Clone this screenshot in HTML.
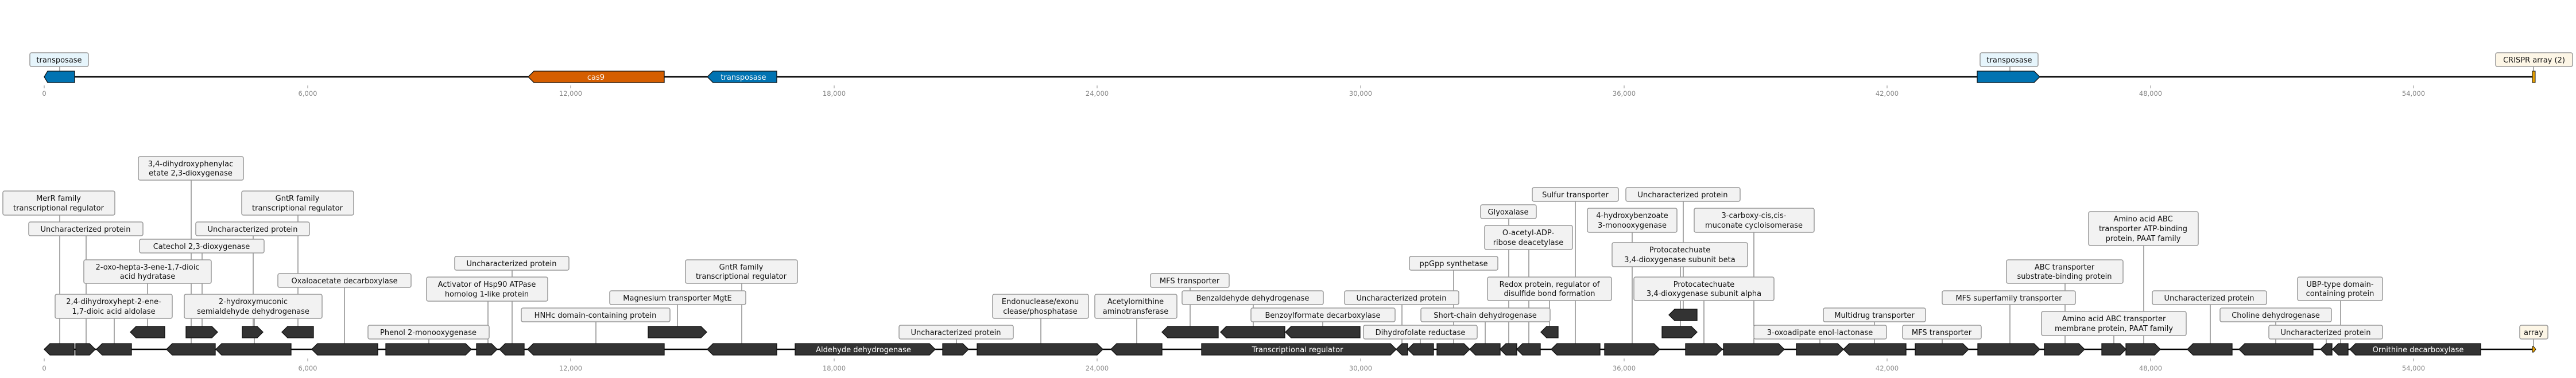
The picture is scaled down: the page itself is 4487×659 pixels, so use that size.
<!DOCTYPE html>
<html><head><meta charset="utf-8"><style>
html,body{margin:0;padding:0;background:#fff;}
svg{display:block;font-family:"DejaVu Sans","Liberation Sans",sans-serif;}
.b{fill:#f2f2f2;stroke:#999;stroke-width:1.5;}
.t{font-size:13px;fill:#111;text-anchor:middle;}
.l{stroke:#555;stroke-width:1;}
.g{fill:#333;stroke:#111;stroke-width:1.3;}
.k{stroke:#888;stroke-width:1;}
.n{font-size:11.5px;fill:#888;text-anchor:middle;}
.w{font-size:13px;fill:#fff;text-anchor:middle;}
</style></head><body>
<svg width="4487" height="659" viewBox="0 0 4487 659" xmlns="http://www.w3.org/2000/svg">
<!-- TOP TRACK -->
<line x1="77" y1="134" x2="4413" y2="134" stroke="#000" stroke-width="2.5"/>
<line class="l" x1="104" y1="116" x2="104" y2="124"/>
<line class="l" x1="3501" y1="116" x2="3501" y2="124"/>
<line class="l" x1="4413" y1="116" x2="4413" y2="124"/>
<polygon points="77,134 83,124 130,124 130,144 83,144" fill="#0173b2" stroke="#111" stroke-width="1.3"/>
<polygon points="920,134 930,124 1157,124 1157,144 930,144" fill="#d55e00" stroke="#111" stroke-width="1.3"/>
<text class="w" x="1038" y="139">cas9</text>
<polygon points="1232,134 1242,124 1353,124 1353,144 1242,144" fill="#0173b2" stroke="#111" stroke-width="1.3"/>
<text class="w" x="1295" y="139">transposase</text>
<polygon points="3444,124 3543,124 3553,134 3543,144 3444,144" fill="#0173b2" stroke="#111" stroke-width="1.3"/>
<rect x="4411" y="124" width="5" height="20" fill="#e69f00" stroke="#111" stroke-width="1"/>
<rect x="52" y="92" width="102" height="24" rx="3" fill="#e6f5fc" stroke="#999" stroke-width="1.5"/>
<text class="t" x="103" y="109">transposase</text>
<rect x="3449" y="92" width="101" height="24" rx="3" fill="#e6f5fc" stroke="#999" stroke-width="1.5"/>
<text class="t" x="3500" y="109">transposase</text>
<rect x="4347" y="92" width="134" height="24" rx="3" fill="#fdf6e6" stroke="#999" stroke-width="1.5"/>
<text class="t" x="4414" y="109">CRISPR array (2)</text>
<g>
<line class="k" x1="77" y1="149" x2="77" y2="154"/><text class="n" x="77" y="167">0</text>
<line class="k" x1="536" y1="149" x2="536" y2="154"/><text class="n" x="536" y="167">6,000</text>
<line class="k" x1="994" y1="149" x2="994" y2="154"/><text class="n" x="994" y="167">12,000</text>
<line class="k" x1="1453" y1="149" x2="1453" y2="154"/><text class="n" x="1453" y="167">18,000</text>
<line class="k" x1="1911" y1="149" x2="1911" y2="154"/><text class="n" x="1911" y="167">24,000</text>
<line class="k" x1="2370" y1="149" x2="2370" y2="154"/><text class="n" x="2370" y="167">30,000</text>
<line class="k" x1="2829" y1="149" x2="2829" y2="154"/><text class="n" x="2829" y="167">36,000</text>
<line class="k" x1="3287" y1="149" x2="3287" y2="154"/><text class="n" x="3287" y="167">42,000</text>
<line class="k" x1="3746" y1="149" x2="3746" y2="154"/><text class="n" x="3746" y="167">48,000</text>
<line class="k" x1="4204" y1="149" x2="4204" y2="154"/><text class="n" x="4204" y="167">54,000</text>
</g>

<!-- BOTTOM TRACK -->
<line x1="77" y1="609" x2="4413" y2="609" stroke="#000" stroke-width="2.5"/>
<g>
<line class="k" x1="77" y1="625" x2="77" y2="630"/><text class="n" x="77" y="646">0</text>
<line class="k" x1="536" y1="625" x2="536" y2="630"/><text class="n" x="536" y="646">6,000</text>
<line class="k" x1="994" y1="625" x2="994" y2="630"/><text class="n" x="994" y="646">12,000</text>
<line class="k" x1="1453" y1="625" x2="1453" y2="630"/><text class="n" x="1453" y="646">18,000</text>
<line class="k" x1="1911" y1="625" x2="1911" y2="630"/><text class="n" x="1911" y="646">24,000</text>
<line class="k" x1="2370" y1="625" x2="2370" y2="630"/><text class="n" x="2370" y="646">30,000</text>
<line class="k" x1="2829" y1="625" x2="2829" y2="630"/><text class="n" x="2829" y="646">36,000</text>
<line class="k" x1="3287" y1="625" x2="3287" y2="630"/><text class="n" x="3287" y="646">42,000</text>
<line class="k" x1="3746" y1="625" x2="3746" y2="630"/><text class="n" x="3746" y="646">48,000</text>
<line class="k" x1="4204" y1="625" x2="4204" y2="630"/><text class="n" x="4204" y="646">54,000</text>
</g>

<!-- leaders -->
<g class="l">
<line x1="333" y1="314" x2="333" y2="599"/>
<line x1="104" y1="375" x2="104" y2="599"/>
<line x1="150" y1="411" x2="150" y2="599"/>
<line x1="519" y1="375" x2="519" y2="569"/>
<line x1="441" y1="411" x2="441" y2="569"/>
<line x1="352" y1="441" x2="352" y2="569"/>
<line x1="257" y1="494" x2="257" y2="569"/>
<line x1="600" y1="501" x2="600" y2="599"/>
<line x1="199" y1="555" x2="199" y2="599"/>
<line x1="443" y1="555" x2="443" y2="599"/>
<line x1="747" y1="591" x2="747" y2="599"/>
<line x1="892" y1="471" x2="892" y2="599"/>
<line x1="850" y1="525" x2="850" y2="599"/>
<line x1="1038" y1="561" x2="1038" y2="599"/>
<line x1="1180" y1="531" x2="1180" y2="569"/>
<line x1="1292" y1="494" x2="1292" y2="599"/>
<line x1="1666" y1="591" x2="1666" y2="599"/>
<line x1="1813" y1="555" x2="1813" y2="599"/>
<line x1="1980" y1="555" x2="1980" y2="599"/>
<line x1="2073" y1="501" x2="2073" y2="569"/>
<line x1="2183" y1="531" x2="2183" y2="569"/>
<line x1="2304" y1="561" x2="2304" y2="569"/>
<line x1="2442" y1="531" x2="2442" y2="599"/>
<line x1="2474" y1="591" x2="2474" y2="599"/>
<line x1="2532" y1="471" x2="2532" y2="599"/>
<line x1="2587" y1="561" x2="2587" y2="599"/>
<line x1="2744" y1="351" x2="2744" y2="599"/>
<line x1="2932" y1="351" x2="2932" y2="539"/>
<line x1="2628" y1="381" x2="2628" y2="599"/>
<line x1="2663" y1="435" x2="2663" y2="599"/>
<line x1="2843" y1="405" x2="2843" y2="599"/>
<line x1="2927" y1="465" x2="2927" y2="569"/>
<line x1="2699" y1="524" x2="2699" y2="569"/>
<line x1="2968" y1="524" x2="2968" y2="599"/>
<line x1="3055" y1="405" x2="3055" y2="599"/>
<line x1="3170" y1="591" x2="3170" y2="599"/>
<line x1="3265" y1="561" x2="3265" y2="599"/>
<line x1="3383" y1="591" x2="3383" y2="599"/>
<line x1="3501" y1="531" x2="3501" y2="599"/>
<line x1="3597" y1="494" x2="3597" y2="599"/>
<line x1="3734" y1="428" x2="3734" y2="599"/>
<line x1="3682" y1="585" x2="3682" y2="599"/>
<line x1="3850" y1="531" x2="3850" y2="599"/>
<line x1="3964" y1="561" x2="3964" y2="599"/>
<line x1="4052" y1="591" x2="4052" y2="599"/>
<line x1="4077" y1="524" x2="4077" y2="599"/>
<line x1="4413" y1="591" x2="4413" y2="604"/>
</g>

<!-- label boxes -->
<g>
<rect class="b" x="241" y="273" width="183" height="41" rx="3"/><text class="t" x="332" y="290">3,4-dihydroxyphenylac</text><text class="t" x="332" y="306">etate 2,3-dioxygenase</text>
<rect class="b" x="5" y="333" width="195" height="42" rx="3"/><text class="t" x="102" y="350">MerR family</text><text class="t" x="102" y="367">transcriptional regulator</text>
<rect class="b" x="50" y="387" width="199" height="24" rx="3"/><text class="t" x="149" y="404">Uncharacterized protein</text>
<rect class="b" x="421" y="333" width="195" height="42" rx="3"/><text class="t" x="518" y="350">GntR family</text><text class="t" x="518" y="367">transcriptional regulator</text>
<rect class="b" x="341" y="387" width="198" height="24" rx="3"/><text class="t" x="440" y="404">Uncharacterized protein</text>
<rect class="b" x="243" y="417" width="217" height="24" rx="3"/><text class="t" x="351" y="434">Catechol 2,3-dioxygenase</text>
<rect class="b" x="146" y="453" width="222" height="41" rx="3"/><text class="t" x="257" y="470">2-oxo-hepta-3-ene-1,7-dioic</text><text class="t" x="257" y="486">acid hydratase</text>
<rect class="b" x="484" y="477" width="232" height="24" rx="3"/><text class="t" x="600" y="494">Oxaloacetate decarboxylase</text>
<rect class="b" x="96" y="513" width="204" height="42" rx="3"/><text class="t" x="198" y="530">2,4-dihydroxyhept-2-ene-</text><text class="t" x="198" y="547">1,7-dioic acid aldolase</text>
<rect class="b" x="321" y="513" width="240" height="42" rx="3"/><text class="t" x="441" y="530">2-hydroxymuconic</text><text class="t" x="441" y="547">semialdehyde dehydrogenase</text>
<rect class="b" x="641" y="567" width="211" height="24" rx="3"/><text class="t" x="746" y="584">Phenol 2-monooxygenase</text>
<rect class="b" x="792" y="447" width="199" height="24" rx="3"/><text class="t" x="891" y="464">Uncharacterized protein</text>
<rect class="b" x="743" y="483" width="211" height="42" rx="3"/><text class="t" x="848" y="500">Activator of Hsp90 ATPase</text><text class="t" x="848" y="517">homolog 1-like protein</text>
<rect class="b" x="908" y="537" width="259" height="24" rx="3"/><text class="t" x="1037" y="554">HNHc domain-containing protein</text>
<rect class="b" x="1062" y="507" width="237" height="24" rx="3"/><text class="t" x="1180" y="524">Magnesium transporter MgtE</text>
<rect class="b" x="1194" y="453" width="195" height="41" rx="3"/><text class="t" x="1291" y="470">GntR family</text><text class="t" x="1291" y="486">transcriptional regulator</text>
<rect class="b" x="1566" y="567" width="199" height="24" rx="3"/><text class="t" x="1665" y="584">Uncharacterized protein</text>
<rect class="b" x="1729" y="513" width="167" height="42" rx="3"/><text class="t" x="1812" y="530">Endonuclease/exonu</text><text class="t" x="1812" y="547">clease/phosphatase</text>
<rect class="b" x="1907" y="513" width="143" height="42" rx="3"/><text class="t" x="1978" y="530">Acetylornithine</text><text class="t" x="1978" y="547">aminotransferase</text>
<rect class="b" x="2004" y="477" width="137" height="24" rx="3"/><text class="t" x="2072" y="494">MFS transporter</text>
<rect class="b" x="2059" y="507" width="246" height="24" rx="3"/><text class="t" x="2182" y="524">Benzaldehyde dehydrogenase</text>
<rect class="b" x="2179" y="537" width="251" height="24" rx="3"/><text class="t" x="2304" y="554">Benzoylformate decarboxylase</text>
<rect class="b" x="2342" y="507" width="199" height="24" rx="3"/><text class="t" x="2441" y="524">Uncharacterized protein</text>
<rect class="b" x="2375" y="567" width="198" height="24" rx="3"/><text class="t" x="2474" y="584">Dihydrofolate reductase</text>
<rect class="b" x="2455" y="447" width="154" height="24" rx="3"/><text class="t" x="2532" y="464">ppGpp synthetase</text>
<rect class="b" x="2475" y="537" width="225" height="24" rx="3"/><text class="t" x="2587" y="554">Short-chain dehydrogenase</text>
<rect class="b" x="2669" y="327" width="150" height="24" rx="3"/><text class="t" x="2744" y="344">Sulfur transporter</text>
<rect class="b" x="2832" y="327" width="199" height="24" rx="3"/><text class="t" x="2931" y="344">Uncharacterized protein</text>
<rect class="b" x="2579" y="357" width="97" height="24" rx="3"/><text class="t" x="2627" y="374">Glyoxalase</text>
<rect class="b" x="2586" y="393" width="153" height="42" rx="3"/><text class="t" x="2662" y="410">O-acetyl-ADP-</text><text class="t" x="2662" y="427">ribose deacetylase</text>
<rect class="b" x="2765" y="363" width="156" height="42" rx="3"/><text class="t" x="2843" y="380">4-hydroxybenzoate</text><text class="t" x="2843" y="397">3-monooxygenase</text>
<rect class="b" x="2808" y="423" width="236" height="42" rx="3"/><text class="t" x="2926" y="440">Protocatechuate</text><text class="t" x="2926" y="457">3,4-dioxygenase subunit beta</text>
<rect class="b" x="2591" y="483" width="216" height="41" rx="3"/><text class="t" x="2699" y="500">Redox protein, regulator of</text><text class="t" x="2699" y="516">disulfide bond formation</text>
<rect class="b" x="2846" y="483" width="244" height="41" rx="3"/><text class="t" x="2968" y="500">Protocatechuate</text><text class="t" x="2968" y="516">3,4-dioxygenase subunit alpha</text>
<rect class="b" x="2951" y="363" width="209" height="42" rx="3"/><text class="t" x="3055" y="380">3-carboxy-cis,cis-</text><text class="t" x="3055" y="397">muconate cycloisomerase</text>
<rect class="b" x="3055" y="567" width="231" height="24" rx="3"/><text class="t" x="3170" y="584">3-oxoadipate enol-lactonase</text>
<rect class="b" x="3176" y="537" width="178" height="24" rx="3"/><text class="t" x="3265" y="554">Multidrug transporter</text>
<rect class="b" x="3314" y="567" width="137" height="24" rx="3"/><text class="t" x="3382" y="584">MFS transporter</text>
<rect class="b" x="3383" y="507" width="232" height="24" rx="3"/><text class="t" x="3499" y="524">MFS superfamily transporter</text>
<rect class="b" x="3495" y="453" width="203" height="41" rx="3"/><text class="t" x="3596" y="470">ABC transporter</text><text class="t" x="3596" y="486">substrate-binding protein</text>
<rect class="b" x="3638" y="369" width="191" height="59" rx="3"/><text class="t" x="3733" y="386">Amino acid ABC</text><text class="t" x="3733" y="403">transporter ATP-binding</text><text class="t" x="3733" y="420">protein, PAAT family</text>
<rect class="b" x="3556" y="543" width="252" height="42" rx="3"/><text class="t" x="3682" y="560">Amino acid ABC transporter</text><text class="t" x="3682" y="577">membrane protein, PAAT family</text>
<rect class="b" x="3749" y="507" width="199" height="24" rx="3"/><text class="t" x="3848" y="524">Uncharacterized protein</text>
<rect class="b" x="3867" y="537" width="194" height="24" rx="3"/><text class="t" x="3964" y="554">Choline dehydrogenase</text>
<rect class="b" x="3952" y="567" width="198" height="24" rx="3"/><text class="t" x="4051" y="584">Uncharacterized protein</text>
<rect class="b" x="4002" y="483" width="148" height="41" rx="3"/><text class="t" x="4076" y="500">UBP-type domain-</text><text class="t" x="4076" y="516">containing protein</text>
<rect x="4389" y="567" width="49" height="24" rx="3" fill="#fdf6e6" stroke="#999" stroke-width="1.5"/><text class="t" x="4413" y="584">array</text>
</g>

<!-- genes base row (y 599-619) -->
<g class="g">
<polygon points="77,609 87,599 129,599 129,619 87,619"/>
<polygon points="132,599 156,599 166,609 156,619 132,619"/>
<polygon points="168,609 178,599 229,599 229,619 178,619"/>
<polygon points="290,609 300,599 375,599 375,619 300,619"/>
<polygon points="376,609 386,599 507,599 507,619 386,619"/>
<polygon points="543,609 553,599 658,599 658,619 553,619"/>
<polygon points="672,599 811,599 821,609 811,619 672,619"/>
<polygon points="830,599 856,599 866,609 856,619 830,619"/>
<polygon points="870,609 880,599 913,599 913,619 880,619"/>
<polygon points="919,609 929,599 1157,599 1157,619 929,619"/>
<polygon points="1232,609 1242,599 1353,599 1353,619 1242,619"/>
<polygon points="1385,599 1619,599 1629,609 1619,619 1385,619"/>
<polygon points="1642,599 1677,599 1687,609 1677,619 1642,619"/>
<polygon points="1702,599 1911,599 1921,609 1911,619 1702,619"/>
<polygon points="1935,609 1945,599 2024,599 2024,619 1945,619"/>
<polygon points="2093,599 2422,599 2432,609 2422,619 2093,619"/>
<polygon points="2432,609 2442,599 2452,599 2452,619 2442,619"/>
<polygon points="2452,609 2462,599 2497,599 2497,619 2462,619"/>
<polygon points="2503,599 2550,599 2560,609 2550,619 2503,619"/>
<polygon points="2560,609 2570,599 2613,599 2613,619 2570,619"/>
<polygon points="2613,609 2623,599 2642,599 2642,619 2623,619"/>
<polygon points="2642,609 2652,599 2683,599 2683,619 2652,619"/>
<polygon points="2702,609 2712,599 2787,599 2787,619 2712,619"/>
<polygon points="2795,599 2881,599 2891,609 2881,619 2795,619"/>
<polygon points="2936,599 2990,599 3000,609 2990,619 2936,619"/>
<polygon points="3002,599 3098,599 3108,609 3098,619 3002,619"/>
<polygon points="3129,599 3201,599 3211,609 3201,619 3129,619"/>
<polygon points="3211,609 3221,599 3320,599 3320,619 3221,619"/>
<polygon points="3336,599 3419,599 3429,609 3419,619 3336,619"/>
<polygon points="3445,599 3543,599 3553,609 3543,619 3445,619"/>
<polygon points="3561,599 3621,599 3631,609 3621,619 3561,619"/>
<polygon points="3661,599 3693,599 3703,609 3693,619 3661,619"/>
<polygon points="3703,599 3753,599 3763,609 3753,619 3703,619"/>
<polygon points="3810,609 3820,599 3888,599 3888,619 3820,619"/>
<polygon points="3900,609 3910,599 4029,599 4029,619 3910,619"/>
<polygon points="4042,609 4052,599 4062,599 4062,619 4052,619"/>
<polygon points="4063,609 4073,599 4090,599 4090,619 4073,619"/>
<polygon points="4093,609 4103,599 4321,599 4321,619 4103,619"/>
<!-- upper row y 569-589 -->
<polygon points="227,579 237,569 287,569 287,589 237,589"/>
<polygon points="324,569 369,569 379,579 369,589 324,589"/>
<polygon points="422,569 448,569 458,579 448,589 422,589"/>
<polygon points="491,579 501,569 546,569 546,589 501,589"/>
<polygon points="1129,569 1221,569 1231,579 1221,589 1129,589"/>
<polygon points="2024,579 2034,569 2122,569 2122,589 2034,589"/>
<polygon points="2126,579 2136,569 2238,569 2238,589 2136,589"/>
<polygon points="2239,579 2249,569 2369,569 2369,589 2249,589"/>
<polygon points="2684,579 2694,569 2714,569 2714,589 2694,589"/>
<polygon points="2895,569 2946,569 2956,579 2946,589 2895,589"/>
<!-- third row y 539-559 -->
<polygon points="2907,549 2917,539 2956,539 2956,559 2917,559"/>
</g>
<polygon points="4411,604 4413,604 4417,609 4413,614 4411,614" fill="#e69f00" stroke="#111" stroke-width="1"/>
<text class="w" x="1504" y="614">Aldehyde dehydrogenase</text>
<text class="w" x="2260" y="614">Transcriptional regulator</text>
<text class="w" x="4212" y="614">Ornithine decarboxylase</text>
</svg>
</body></html>
